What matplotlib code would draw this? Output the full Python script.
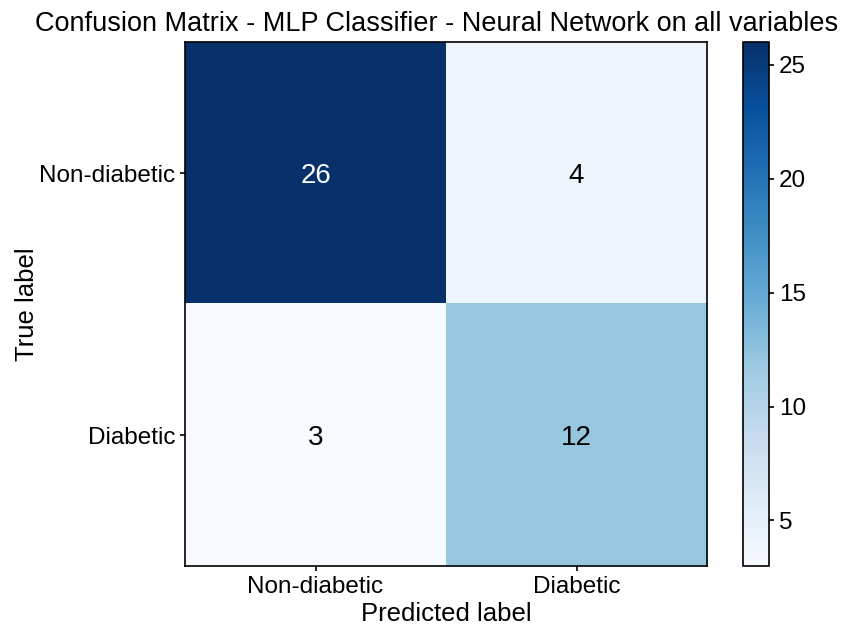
import numpy as np
import matplotlib.pyplot as plt

plt.rcParams['font.family'] = ['Liberation Sans', 'DejaVu Sans']
plt.rcParams['axes.linewidth'] = 1.2

classes = ['Non-diabetic', 'Diabetic']
cm = np.array([[26, 4],
               [3, 12]])
cbar_ticks = [5, 10, 15, 20, 25]

fig = plt.figure(figsize=(8.47, 6.31), dpi=100)
ax = fig.add_axes([185 / 847, 1 - 566 / 631, 522 / 847, 524 / 631])
cax = fig.add_axes([743 / 847, 1 - 566 / 631, 26 / 847, 524 / 631])

im = ax.imshow(cm, interpolation='nearest', cmap=plt.cm.Blues, aspect='auto')
ax.set_title('Confusion Matrix - MLP Classifier - Neural Network on all variables',
             fontsize=19.5, pad=8, x=0.481)
cb = fig.colorbar(im, cax=cax, ticks=cbar_ticks)
cb.ax.tick_params(labelsize=17.5, width=1.2)
cb.outline.set_linewidth(1.2)

ax.set_xticks(np.arange(len(classes)))
ax.set_xticklabels(classes, fontsize=17.5)
ax.set_yticks(np.arange(len(classes)))
ax.set_yticklabels(classes, fontsize=17.5)
ax.tick_params(width=1.2)

thresh = cm.max() / 2.
for i in range(cm.shape[0]):
    for j in range(cm.shape[1]):
        ax.text(j, i + 0.01, format(cm[i, j], 'd'),
                ha='center', va='center', fontsize=20,
                color='white' if cm[i, j] > thresh else 'black')

ax.set_ylabel('True label', fontsize=18.5, labelpad=0)
ax.set_xlabel('Predicted label', fontsize=18.5, labelpad=3)

fig.savefig('out.png', dpi=100)
